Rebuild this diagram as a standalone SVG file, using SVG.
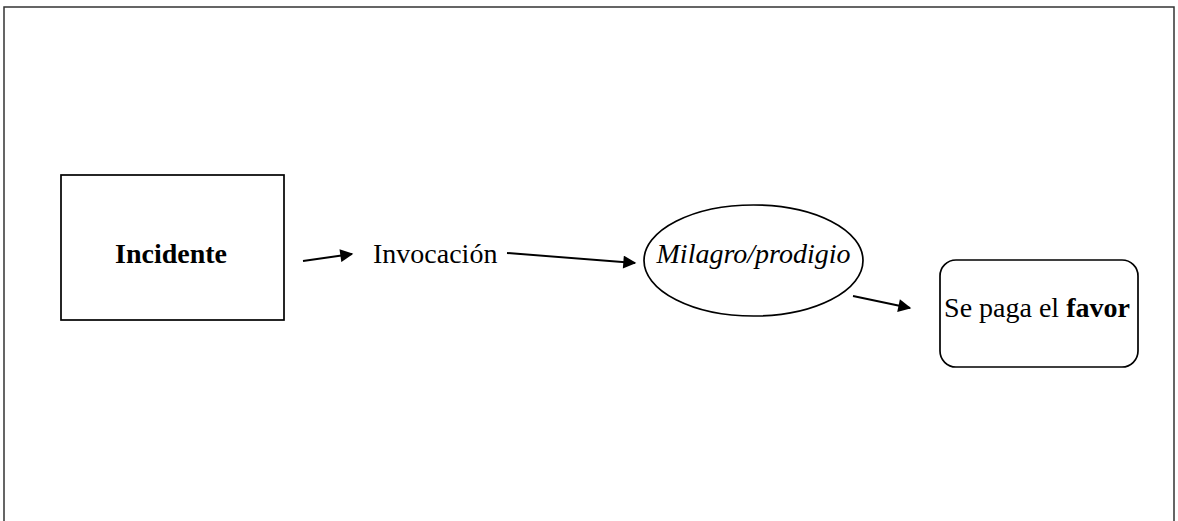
<svg xmlns="http://www.w3.org/2000/svg" width="1178" height="521" viewBox="0 0 1178 521">
<style>
.frame{fill:none;stroke:#333;stroke-width:1.5}
.shape{fill:#fff;stroke:#000;stroke-width:1.7}
.t{font-family:"Liberation Serif","Times New Roman",serif;font-size:28px;fill:#000}
.b{font-weight:bold}
.i{font-style:italic}
.c{fill:none;stroke:#000;stroke-width:2}
</style>
<defs>
<marker id="ah" viewBox="0 0 10 10" refX="9" refY="5" markerWidth="15" markerHeight="13" markerUnits="userSpaceOnUse" orient="auto">
<path d="M0,0 L10,5 L0,10 Z" fill="#000"/>
</marker>
</defs>
<rect width="1178" height="521" fill="#fff"/>
<path class="frame" d="M4,522 V7 H1174 V522"/>
<g id="incidente">
<rect class="shape" x="61" y="175" width="223" height="145"/>
<text class="t b" x="171" y="263" text-anchor="middle">Incidente</text>
</g>
<g id="invocacion">
<text class="t" x="373" y="263">Invocación</text>
</g>
<g id="milagro">
<ellipse class="shape" cx="753.5" cy="260.5" rx="109.5" ry="55.5"/>
<text class="t i" x="753.5" y="263" text-anchor="middle">Milagro/prodigio</text>
</g>
<g id="favor">
<rect class="shape" x="940" y="260" width="198" height="107" rx="16" ry="16"/>
<text class="t" x="1037" y="317" text-anchor="middle">Se paga el <tspan class="b">favor</tspan></text>
</g>
<g id="connectors">
<line class="c" x1="303" y1="261" x2="352" y2="254" marker-end="url(#ah)"/>
<line class="c" x1="507" y1="253" x2="635" y2="263" marker-end="url(#ah)"/>
<line class="c" x1="853" y1="296" x2="910" y2="308" marker-end="url(#ah)"/>
</g>
</svg>
